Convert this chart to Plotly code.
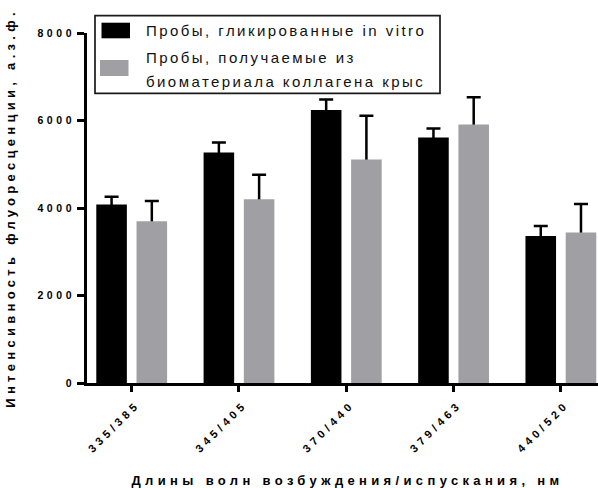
import plotly.graph_objects as go

# ---- data ----
categories = ['335/385', '345/405', '370/440', '379/463', '440/520']
in_vitro = [4080, 5270, 6240, 5610, 3360]
in_vitro_err = [175, 230, 240, 210, 230]
rat_collagen = [3700, 4200, 5110, 5910, 3440]
rat_collagen_err = [460, 560, 1000, 620, 650]
y_ticks = [0, 2000, 4000, 6000, 8000]

name1 = 'Пробы, гликированные in vitro'
name2_lines = ['Пробы, получаемые из', 'биоматериала коллагена крыс']
x_title = 'Длины волн возбуждения/испускания, нм'
y_title = 'Интенсивность флуоресценции, а.з.ф.'

BLACK = '#000000'
GRAY = '#a0a0a4'
FONT = 'Liberation Sans, Arial, Helvetica, sans-serif'

W, H = 598, 488
ML, MR, MT, MB = 87, 0, 33, 105
PW, PH = W - ML - MR, H - MT - MB


def xp(px):
    return (px - ML) / PW


def yp(py):
    return (H - MB - py) / PH


fig = go.Figure()

# error bars (upper only) drawn beneath the bars so the lower whisker is hidden
for vals, errs, grp in [(in_vitro, in_vitro_err, 'a'), (rat_collagen, rat_collagen_err, 'b')]:
    fig.add_trace(go.Bar(
        x=categories, y=vals, offsetgroup=grp, showlegend=False, hoverinfo='skip',
        marker=dict(color='rgba(0,0,0,0)', line=dict(width=0)),
        error_y=dict(type='data', symmetric=False, array=errs, arrayminus=vals,
                     color=BLACK, thickness=2.5, width=7),
    ))

fig.add_trace(go.Bar(x=categories, y=in_vitro, name=name1, offsetgroup='a',
                     marker=dict(color=BLACK, line=dict(width=0)), showlegend=False))
fig.add_trace(go.Bar(x=categories, y=rat_collagen, name=' '.join(name2_lines), offsetgroup='b',
                     marker=dict(color=GRAY, line=dict(width=0)), showlegend=False))

# legend box drawn by hand (GraphPad style)
shapes = [
    dict(type='rect', xref='paper', yref='paper', x0=xp(95), x1=xp(440), y0=yp(93.3), y1=yp(15.7),
         line=dict(color='#1a1a1a', width=1.7), fillcolor='white', layer='above'),
    dict(type='rect', xref='paper', yref='paper', x0=xp(101.5), x1=xp(130), y0=yp(38.3), y1=yp(22.7),
         line=dict(width=0), fillcolor=BLACK, layer='above'),
    dict(type='rect', xref='paper', yref='paper', x0=xp(100), x1=xp(128.5), y0=yp(76), y1=yp(60),
         line=dict(width=0), fillcolor=GRAY, layer='above'),
]
legend_font = dict(family=FONT, size=15, color='#111')
annotations = [
    dict(text=name1, x=xp(144), y=yp(30.5)),
    dict(text=name2_lines[0], x=xp(144), y=yp(58)),
    dict(text=name2_lines[1], x=xp(144), y=yp(81.5)),
]
for a in annotations:
    a.update(xref='paper', yref='paper', xanchor='left', yanchor='middle', showarrow=False,
             font=legend_font)
# y-axis title placed as a rotated annotation (GraphPad puts it close to the edge)
annotations.append(dict(
    text=y_title, xref='paper', yref='paper', x=xp(9.5), y=yp(208), xanchor='center', yanchor='middle',
    textangle=-90, showarrow=False, font=dict(family=FONT, size=13, weight='bold', color=BLACK),
    name='ytitle',
))

fig.update_layout(
    template='none',
    width=W, height=H,
    margin=dict(l=ML, r=MR, t=MT, b=MB, pad=0),
    paper_bgcolor='white', plot_bgcolor='white',
    barmode='group', bargap=0.25, bargroupgap=0.24,
    shapes=shapes, annotations=annotations,
    showlegend=False,
    font=dict(family=FONT, color='black'),
)

fig.update_xaxes(
    type='category', range=[-0.4166, 4.346], automargin=False,
    showline=True, linecolor=BLACK, linewidth=2.5,
    ticks='outside', ticklen=6, tickwidth=2.5, tickcolor=BLACK,
    tickangle=-45, tickfont=dict(family=FONT, size=11, weight='bold', color=BLACK),
    ticklabelshift=5, ticklabelstandoff=2,
    showgrid=False, zeroline=False,
    title=dict(text=x_title, font=dict(family=FONT, size=13, weight='bold', color=BLACK), standoff=44),
)
fig.update_yaxes(
    range=[0, 8000], tickvals=y_ticks, ticktext=[str(v) for v in y_ticks], automargin=False,
    showline=True, linecolor=BLACK, linewidth=2.5,
    ticks='outside', ticklen=7, tickwidth=2.5, tickcolor=BLACK,
    tickfont=dict(family=FONT, size=10.5, weight='bold', color=BLACK),
    showgrid=False, zeroline=False,
)

post = """
document.documentElement.style.margin = '0';
document.body.style.margin = '0';
document.body.style.padding = '0';
document.body.style.overflow = 'hidden';
var gd = document.getElementById('{plot_id}');
function spacing(sel, v) {
  gd.querySelectorAll(sel).forEach(function(t) {
    t.style.letterSpacing = v + 'px';
  });
}
function applyAll() {
  spacing('.xtick text', 4.0);
  spacing('.ytick text', 3.6);
  spacing('.xtitle', 4.35);
  gd.querySelectorAll('.xtitle').forEach(function(t) {
    var x = parseFloat(t.getAttribute('x')) || 0;
    t.setAttribute('x', x + 5);
  });
  gd.querySelectorAll('.annotation').forEach(function(g, i) {
    var t = g.querySelector('.annotation-text');
    if (!t) return;
    if (i === 3) {
      t.style.letterSpacing = '4.3px';
    } else {
      var before = t.getBBox().x;
      t.style.letterSpacing = '2.45px';
      var after = t.getBBox().x;
      var x = parseFloat(t.getAttribute('x')) || 0;
      t.setAttribute('x', x + (before - after));
    }
  });
}
applyAll();
"""

fig.write_html('out.html', post_script=post, config={'displayModeBar': False})
